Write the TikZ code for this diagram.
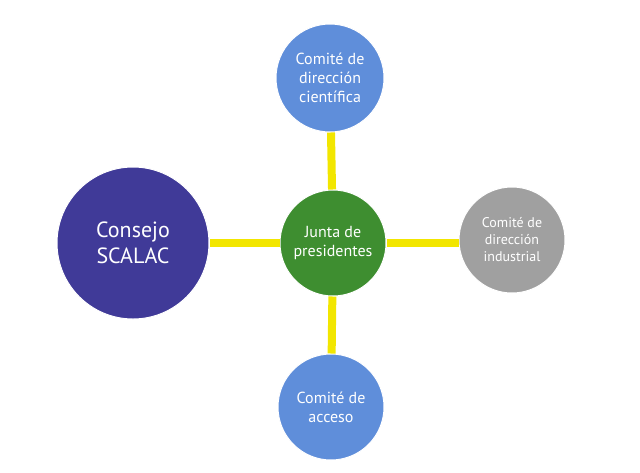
\documentclass[tikz,border=0pt]{standalone}
\usepackage{fontspec}
\setmainfont{PT Sans}
\definecolor{cblue}{RGB}{95,142,218}
\definecolor{cgreen}{RGB}{62,142,48}
\definecolor{cpurple}{RGB}{64,58,152}
\definecolor{cgrey}{RGB}{160,160,160}
\definecolor{cyellow}{RGB}{242,230,0}
\tikzset{
  circ/.style={circle,draw=white,line width=1pt,text=white,align=center,inner sep=0pt},
  link/.style={cyellow,line width=8pt}
}
\begin{document}
\begin{tikzpicture}[x=1pt,y=-1pt]
\useasboundingbox (0,0) rectangle (640,472);
\node[circ,fill=cgreen,minimum size=106pt,font=\fontsize{16}{19}\selectfont] (c) at (333,243) {Junta de\\presidentes};
\node[circ,fill=cblue,minimum size=108pt,font=\fontsize{16}{19}\selectfont] (t) at (330,78) {Comité de\\dirección\\científica};
\node[circ,fill=cblue,minimum size=106pt,font=\fontsize{16}{19}\selectfont] (b) at (331,407) {Comité de\\acceso};
\node[circ,fill=cpurple,minimum size=152pt,font=\fontsize{22}{26}\selectfont] (l) at (133,243) {Consejo\\SCALAC};
\node[circ,fill=cgrey,minimum size=106pt,font=\fontsize{14}{17}\selectfont] (r) at (512,240) {Comité de\\dirección\\industrial};
\draw[link] (c) -- (t);
\draw[link] (c) -- (b);
\draw[link] (c) -- (l);
\draw[link] (c.east) -- (r.west |- c.east);
\end{tikzpicture}
\end{document}
